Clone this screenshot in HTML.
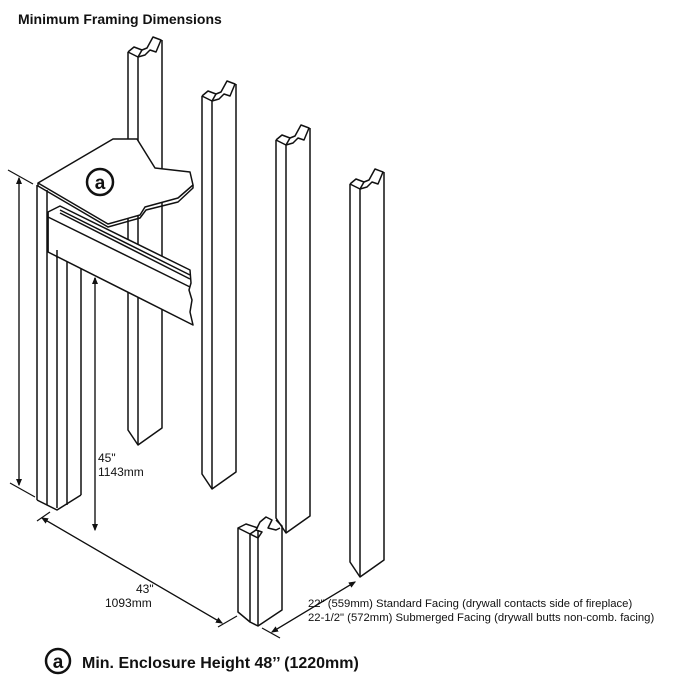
<!DOCTYPE html>
<html><head><meta charset="utf-8"><style>
html,body{margin:0;padding:0;background:#fff;width:690px;height:684px;overflow:hidden}
svg{display:block}
text{font-family:"Liberation Sans",Arial,sans-serif;fill:#111}
</style></head><body>
<svg width="690" height="684" viewBox="0 0 690 684" xmlns="http://www.w3.org/2000/svg">
<defs>
<marker id="ar" markerWidth="6" markerHeight="6" refX="5" refY="3" orient="auto"><path d="M0,0.5 L6,3 L0,5.5 z" fill="#111"/></marker>
</defs>
<text x="18" y="24" font-size="14" font-weight="bold">Minimum Framing Dimensions</text>
<g fill="none" stroke="#111" stroke-width="1.5" stroke-linejoin="round">
<g id="p1">
<polyline points="128,52 128,430 138,445 162,428 162,40"/>
<line x1="138" y1="57" x2="138" y2="445"/>
<polyline points="128,52 134,47 142,50 138,57 128,52"/>
<polyline points="142,50 147,48 153,37 161,40 156,52 150,50 145,55 138,57"/>
</g>
<use href="#p1" transform="translate(74,44)"/>
<use href="#p1" transform="translate(148,88)"/>
<use href="#p1" transform="translate(222,132)"/>
<polyline points="238,528 238,612 250,622 250,534 238,528 246,524 258,528"/>
<polyline points="250,622 258,626 282,610 282,526 276,520"/>
<line x1="258" y1="530" x2="258" y2="626"/>
<polyline points="250,534 256,530 262,532 258,538 250,534"/>
<polyline points="256,530 260,522 266,517 272,520 268,528 276,530 280,528"/>
<line x1="37" y1="185" x2="37" y2="500"/>
<line x1="47" y1="190" x2="47" y2="505"/>
<line x1="57" y1="222" x2="57" y2="508"/>
<line x1="81" y1="234" x2="81" y2="495"/>
<polyline points="37,500 57,510 81,495"/>
<line x1="67" y1="225" x2="67" y2="505"/>
<polygon points="38,183 113,139 137,139 155,168 190,172 193,185 178,198 145,207 140,215 108,224" fill="#fff"/>
<polyline points="38,183 38,186 108,227 140,218 146,210 178,202 193,188 193,185"/>
<polygon points="48,212 60,206 190,270 191,283 189,290 192,300 190,312 193,325 48,252" fill="#fff"/>
<line x1="60" y1="210" x2="190" y2="275"/>
<line x1="60" y1="213" x2="190" y2="279"/>
<line x1="48" y1="217" x2="190" y2="287"/>
<line x1="48" y1="212" x2="48" y2="252"/>
<line x1="57" y1="250" x2="57" y2="258"/>
<line x1="95" y1="278" x2="95" y2="282"/>
</g>
<circle cx="100" cy="182" r="13" fill="#fff" stroke="#111" stroke-width="2.5"/>
<text x="100" y="189" font-size="19" font-weight="bold" text-anchor="middle">a</text>
<g fill="none" stroke="#111" stroke-width="1.2">
<line x1="8" y1="170" x2="33" y2="184"/>
<line x1="10" y1="483" x2="35" y2="497"/>
<line x1="19" y1="485" x2="19" y2="178" marker-end="url(#ar)"/>
<line x1="19" y1="178" x2="19" y2="485" marker-end="url(#ar)"/>
<line x1="95" y1="530" x2="95" y2="278" marker-end="url(#ar)"/>
<line x1="95" y1="278" x2="95" y2="530" marker-end="url(#ar)"/>
<line x1="37" y1="521" x2="50" y2="512"/>
<line x1="218" y1="627" x2="237" y2="616"/>
<line x1="42" y1="518" x2="222" y2="623" marker-end="url(#ar)"/>
<line x1="222" y1="623" x2="42" y2="518" marker-end="url(#ar)"/>
<line x1="262" y1="628" x2="280" y2="638"/>
<line x1="272" y1="632" x2="355" y2="582" marker-end="url(#ar)"/>
<line x1="355" y1="582" x2="272" y2="632" marker-end="url(#ar)"/>
</g>
<text x="98" y="462" font-size="12">45"</text>
<text x="98" y="476" font-size="12">1143mm</text>
<text x="136" y="593" font-size="12">43"</text>
<text x="105" y="607" font-size="12">1093mm</text>
<text x="308" y="607" font-size="11.3">22" (559mm) Standard Facing (drywall contacts side of fireplace)</text>
<text x="308" y="621" font-size="11.3">22-1/2" (572mm) Submerged Facing (drywall butts non-comb. facing)</text>
<circle cx="58" cy="661" r="12" fill="none" stroke="#111" stroke-width="2.5"/>
<text x="58" y="668" font-size="19" font-weight="bold" text-anchor="middle">a</text>
<text x="82" y="668" font-size="16" font-weight="bold">Min. Enclosure Height 48’’ (1220mm)</text>
</svg>
</body></html>
